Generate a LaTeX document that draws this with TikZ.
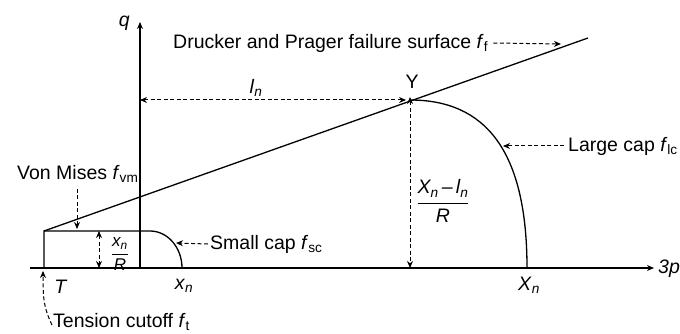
\documentclass[tikz,border=0pt]{standalone}
\usepackage{fontspec}
\setmainfont{Liberation Sans}
\usetikzlibrary{arrows.meta}
\newcommand\iv[2]{\textit{#1}\textsubscript{\itshape #2}}
\newcommand\fv[1]{\textit{f}\textsubscript{#1}}
\begin{document}
\begin{tikzpicture}[x=1pt,y=-1pt,
  ax/.style={line width=1.3pt},
  dsh/.style={line width=1pt, dash pattern=on 4pt off 2.5pt},
  tp/.style={-{Stealth[length=7pt,width=6pt]}},
  tt/.style={{Stealth[length=7pt,width=6pt]}-{Stealth[length=7pt,width=6pt]}},
  lab/.style={font=\fontsize{19.5}{22}\selectfont, inner sep=0pt},
  sml/.style={font=\fontsize{17}{19}\selectfont, inner sep=0pt},
]
\useasboundingbox (0,0) rectangle (680,334);
% key points
\coordinate (O) at (140,268);
\coordinate (qtop) at (140,22);
\coordinate (xl) at (30,268);
\coordinate (xr) at (654,268);
\coordinate (T) at (44,268);
\coordinate (C) at (44,231);
\coordinate (S) at (150,231);
\coordinate (xn) at (182,268);
\coordinate (Y) at (410,100);
\coordinate (Yb) at (410,268);
\coordinate (Xn) at (527,268);
\coordinate (DPend) at (588,38);
\coordinate (qY) at (140,100);
\coordinate (sa) at (99,231);
\coordinate (sb) at (99,268);
% axes
\draw[ax,tp] (xl) -- (xr);
\draw[ax,tp] (O) -- (qtop);
% surfaces
\draw[ax] (C) -- (DPend);
\draw[ax] (T) -- (C) -- (S) .. controls (168,231) and (182,248) .. (xn);
\draw[ax] (Y) .. controls (485,100) and (527,150) .. (Xn);
% labels
\node[lab,anchor=east] (q) at (130,23) {\textit{q}};
\node[lab,anchor=west] (p3) at (658,269) {\textit{3p}};
\node[lab,anchor=west] (dp) at (173,43) {Drucker and Prager failure surface \fv{f}};
\node[lab] (Ylab) at (412,82) {Y};
\node[lab] (ln) at (256,88) {\iv{l}{n}};
\node[lab,anchor=west] (lc) at (568,146) {Large cap \fv{lc}};
\node[lab,anchor=west] (vm) at (17,174) {Von Mises \fv{vm}};
\node[lab,anchor=west] (sc) at (210,244) {Small cap \fv{sc}};
\node[lab,anchor=west] (tc) at (53,322) {Tension cutoff \fv{t}};
\node[lab] (Tl) at (61,287) {\textit{T}};
\node[lab] (xnl) at (184,286) {\iv{x}{n}};
\node[lab] (Xnl) at (529,285) {\iv{X}{n}};
\node[lab] (bigfrac) at (443,201) {$\displaystyle\frac{\mbox{\itshape X\textsubscript{n}\,\textendash\,l\textsubscript{n}}}{\mbox{\itshape R}}$};
\node[sml] (smfrac) at (120,254) {$\displaystyle\frac{\mbox{\itshape x\textsubscript{n}}}{\mbox{\itshape R}}$};
% dimension arrows
\draw[dsh,tt] (qY) -- ([xshift=-4pt]Y);
\draw[dsh,tt] ([yshift=3pt]Y) -- (Yb);
\draw[dsh,tt] (sa) -- (sb);
% pointer arrows
\coordinate (dpt) at (561,44);
\coordinate (lct) at (503,146);
\coordinate (vmt) at (77,229);
\coordinate (sct) at (176,243);
\coordinate (tct) at (43,271);
\draw[dsh,tp] ([xshift=5pt]dp.east) -- (dpt);
\draw[dsh,tp] ([xshift=-4pt]lc.west) -- (lct);
\draw[dsh,tp] (vm.south -| vmt) ++(0,6) -- (vmt);
\draw[dsh,tp] ([xshift=-2pt]sc.west) -- (sct);
\draw[dsh,tp] ([xshift=-1pt,yshift=-3pt]tc.west) .. controls (44,308) and (43,300) .. (tct);
\end{tikzpicture}
\end{document}
